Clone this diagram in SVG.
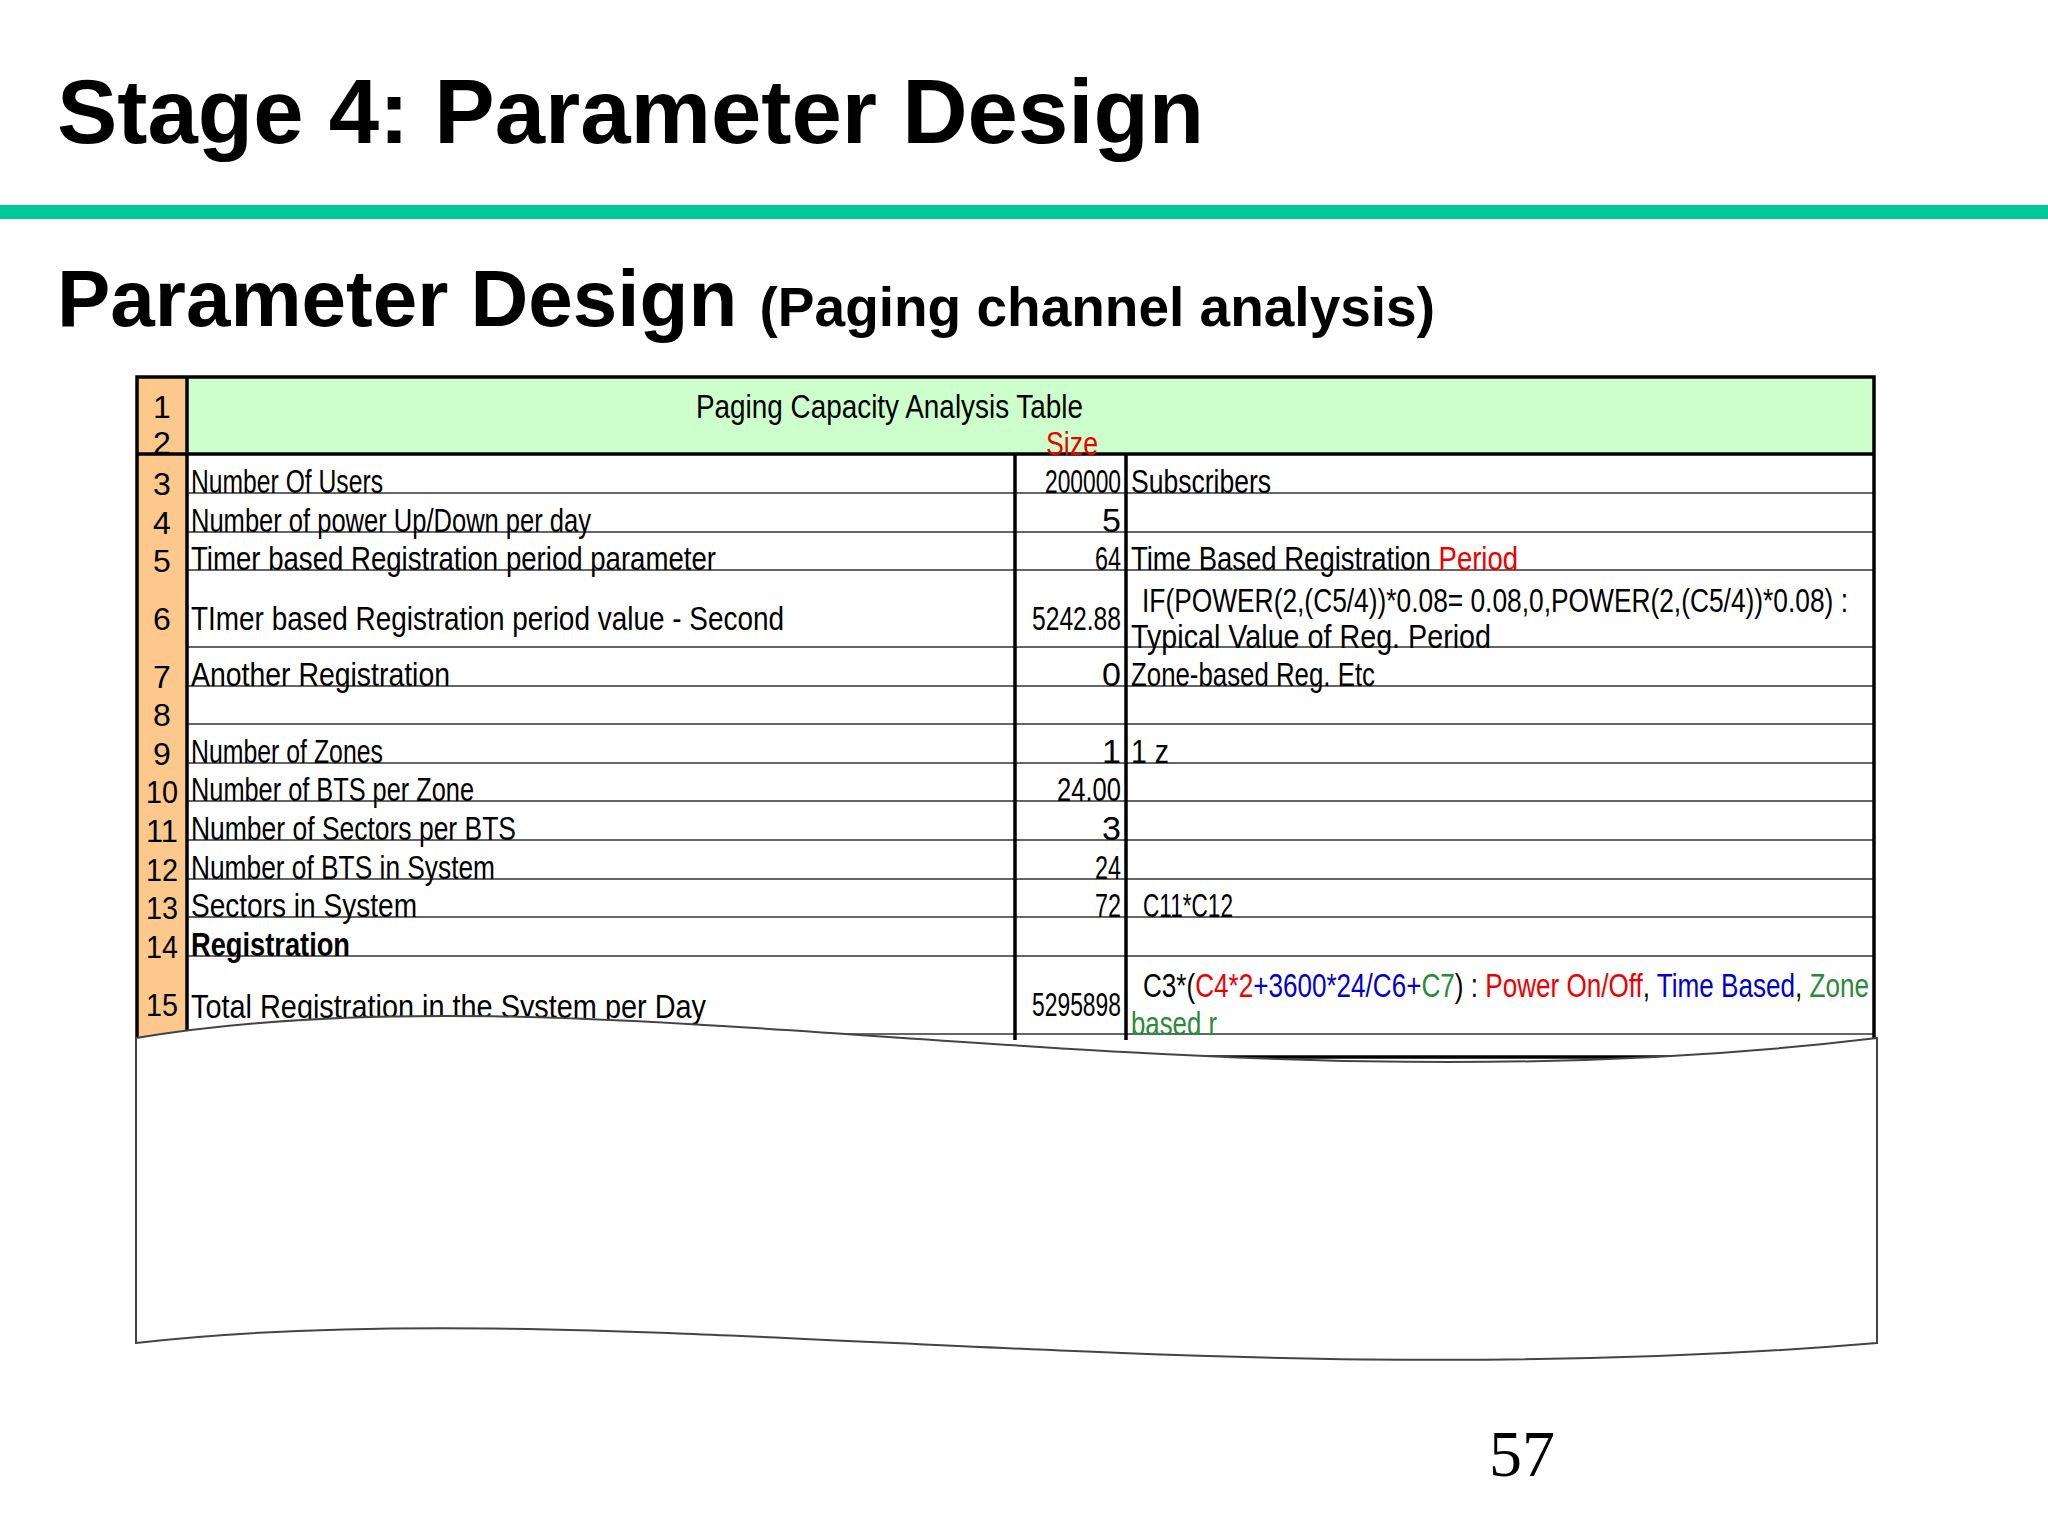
<svg xmlns="http://www.w3.org/2000/svg" width="2048" height="1536" viewBox="0 0 2048 1536">
<style>
.t{font-family:"Liberation Sans",Arial,sans-serif;font-size:34px;fill:#000}
.n{font-family:"Liberation Sans",Arial,sans-serif;font-size:32px;fill:#000;text-anchor:middle}
.v{font-family:"Liberation Sans",Arial,sans-serif;font-size:34px;fill:#000;text-anchor:end}
.rl{stroke:#333;stroke-width:1.5}
.r{fill:#e00}.b{fill:#00c}.g{fill:#2a8a3a}
</style>
<rect width="2048" height="1536" fill="#fff"/>
<text x="57" y="143" font-family="Liberation Sans,Arial,sans-serif" font-weight="bold" font-size="90" textLength="1147" lengthAdjust="spacingAndGlyphs">Stage 4: Parameter Design</text>
<rect x="0" y="205" width="2048" height="14" fill="#00c896"/>
<text x="57" y="326" font-family="Liberation Sans,Arial,sans-serif" font-weight="bold" font-size="80">Parameter Design <tspan font-size="55">(Paging channel analysis)</tspan></text>
<g id="table">
<rect x="137" y="377" width="1737" height="77" fill="#ccffcc"/>
<rect x="137" y="377" width="50" height="660" fill="#fcc88c"/>
<g class="rl">
<line x1="187" y1="493" x2="1874" y2="493"/><line x1="187" y1="532" x2="1874" y2="532"/>
<line x1="187" y1="570" x2="1874" y2="570"/><line x1="187" y1="647" x2="1874" y2="647"/>
<line x1="187" y1="686" x2="1874" y2="686"/><line x1="187" y1="724" x2="1874" y2="724"/>
<line x1="187" y1="763" x2="1874" y2="763"/><line x1="187" y1="801" x2="1874" y2="801"/>
<line x1="187" y1="840" x2="1874" y2="840"/><line x1="187" y1="879" x2="1874" y2="879"/>
<line x1="187" y1="917" x2="1874" y2="917"/><line x1="187" y1="956" x2="1874" y2="956"/>
<line x1="187" y1="1034" x2="1874" y2="1034"/>
</g>
<g stroke="#000" stroke-width="3.5" fill="none">
<rect x="137" y="377" width="1737" height="680"/>
<line x1="137" y1="454" x2="1874" y2="454"/>
<line x1="187" y1="377" x2="187" y2="1040"/>
<line x1="1015" y1="454" x2="1015" y2="1040"/>
<line x1="1126" y1="454" x2="1126" y2="1040"/>
</g>
<text class="n" x="162" y="418">1</text><text class="n" x="162" y="454">2</text>
<text class="n" x="162" y="495">3</text><text class="n" x="162" y="534">4</text>
<text class="n" x="162" y="572">5</text><text class="n" x="162" y="630">6</text>
<text class="n" x="162" y="688">7</text><text class="n" x="162" y="726">8</text>
<text class="n" x="162" y="765">9</text><text class="n" x="162" y="803" textLength="32" lengthAdjust="spacingAndGlyphs">10</text>
<text class="n" x="162" y="842" textLength="32" lengthAdjust="spacingAndGlyphs">11</text><text class="n" x="162" y="881" textLength="32" lengthAdjust="spacingAndGlyphs">12</text>
<text class="n" x="162" y="919" textLength="32" lengthAdjust="spacingAndGlyphs">13</text><text class="n" x="162" y="958" textLength="32" lengthAdjust="spacingAndGlyphs">14</text>
<text class="n" x="162" y="1016" textLength="32" lengthAdjust="spacingAndGlyphs">15</text>
<text class="t" x="696" y="418" textLength="387" lengthAdjust="spacingAndGlyphs">Paging Capacity Analysis Table</text>
<text class="t r" x="1046" y="455" textLength="52" lengthAdjust="spacingAndGlyphs">Size</text>
<text class="t" x="191" y="493" textLength="192" lengthAdjust="spacingAndGlyphs">Number Of Users</text>
<text class="t" x="191" y="532" textLength="400" lengthAdjust="spacingAndGlyphs">Number of power Up/Down per day</text>
<text class="t" x="191" y="570" textLength="525" lengthAdjust="spacingAndGlyphs">Timer based Registration period parameter</text>
<text class="t" x="191" y="630" textLength="593" lengthAdjust="spacingAndGlyphs">TImer based Registration period value - Second</text>
<text class="t" x="191" y="686" textLength="259" lengthAdjust="spacingAndGlyphs">Another Registration</text>
<text class="t" x="191" y="763" textLength="192" lengthAdjust="spacingAndGlyphs">Number of Zones</text>
<text class="t" x="191" y="801" textLength="283" lengthAdjust="spacingAndGlyphs">Number of BTS per Zone</text>
<text class="t" x="191" y="840" textLength="325" lengthAdjust="spacingAndGlyphs">Number of Sectors per BTS</text>
<text class="t" x="191" y="879" textLength="304" lengthAdjust="spacingAndGlyphs">Number of BTS in System</text>
<text class="t" x="191" y="917" textLength="226" lengthAdjust="spacingAndGlyphs">Sectors in System</text>
<text class="t" x="191" y="956" font-weight="bold" textLength="159" lengthAdjust="spacingAndGlyphs">Registration</text>
<text class="t" x="191" y="1018" textLength="515" lengthAdjust="spacingAndGlyphs">Total Registration in the System per Day</text>
<text class="v" x="1121" y="493" textLength="76" lengthAdjust="spacingAndGlyphs">200000</text><text class="v" x="1121" y="532">5</text>
<text class="v" x="1121" y="570" textLength="26" lengthAdjust="spacingAndGlyphs">64</text><text class="v" x="1121" y="630" textLength="89" lengthAdjust="spacingAndGlyphs">5242.88</text>
<text class="v" x="1121" y="686">0</text><text class="v" x="1121" y="763">1</text>
<text class="v" x="1121" y="801" textLength="64" lengthAdjust="spacingAndGlyphs">24.00</text><text class="v" x="1121" y="840">3</text>
<text class="v" x="1121" y="879" textLength="26" lengthAdjust="spacingAndGlyphs">24</text><text class="v" x="1121" y="917" textLength="26" lengthAdjust="spacingAndGlyphs">72</text>
<text class="v" x="1121" y="1016" textLength="89" lengthAdjust="spacingAndGlyphs">5295898</text>
<text class="t" x="1131" y="493" textLength="140" lengthAdjust="spacingAndGlyphs">Subscribers</text>
<text class="t" x="1131" y="570" textLength="387" lengthAdjust="spacingAndGlyphs">Time Based Registration <tspan class="r">Period</tspan></text>
<text class="t" x="1142" y="612" textLength="706" lengthAdjust="spacingAndGlyphs">IF(POWER(2,(C5/4))*0.08= 0.08,0,POWER(2,(C5/4))*0.08) :</text>
<text class="t" x="1131" y="648" textLength="360" lengthAdjust="spacingAndGlyphs">Typical Value of Reg. Period</text>
<text class="t" x="1131" y="686" textLength="244" lengthAdjust="spacingAndGlyphs">Zone-based Reg. Etc</text>
<text class="t" x="1131" y="763" textLength="38" lengthAdjust="spacingAndGlyphs">1 z</text>
<text class="t" x="1143" y="917" textLength="90" lengthAdjust="spacingAndGlyphs">C11*C12</text>
<text class="t" x="1143" y="997" textLength="726" lengthAdjust="spacingAndGlyphs">C3*(<tspan class="r">C4*2</tspan><tspan class="b">+3600*24/C6+</tspan><tspan class="g">C7</tspan>) : <tspan class="r">Power On/Off</tspan>, <tspan class="b">Time Based</tspan>, <tspan class="g">Zone</tspan></text>
<text class="t g" x="1131" y="1035" textLength="86" lengthAdjust="spacingAndGlyphs">based r</text>
</g>
<path d="M136,1038 C600,960 1200,1120 1877,1038 L1877,1343 C1200,1400 600,1290 136,1343 Z" fill="#fff" stroke="#444" stroke-width="2"/>
<text x="1489" y="1476" font-family="Liberation Serif,serif" font-size="66">57</text>
</svg>
